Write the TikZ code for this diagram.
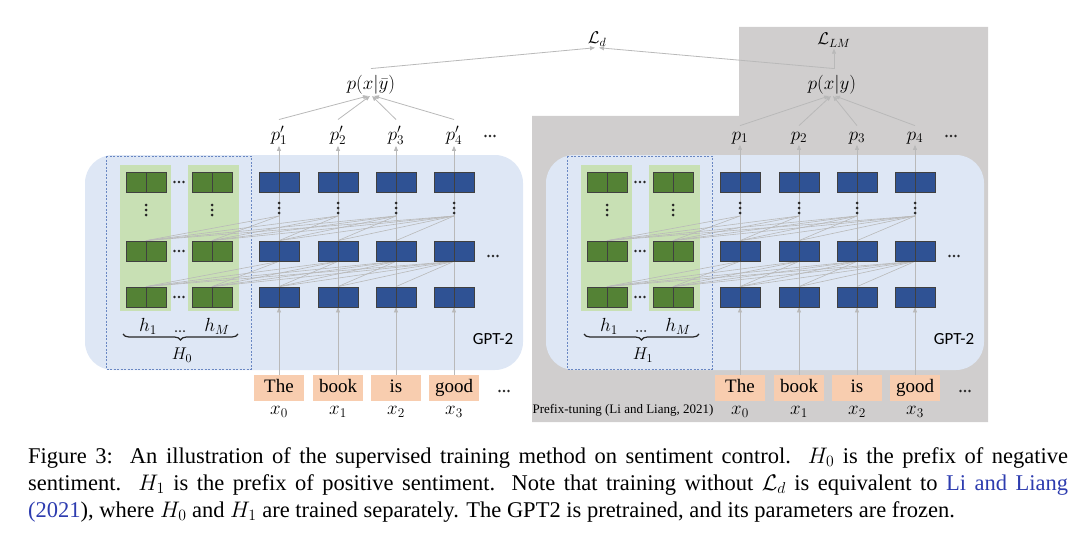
\RequirePackage{fix-cm}
\documentclass[tikz,border=0pt]{standalone}
\usepackage{fontspec}
\setmainfont{Liberation Serif}
\newfontfamily\gptfont{Carlito}
\usetikzlibrary{arrows.meta,decorations.pathreplacing}
\definecolor{graybg}{RGB}{208,206,206}
\definecolor{bluebg}{RGB}{222,231,245}
\definecolor{greenbg}{RGB}{200,224,180}
\definecolor{greenblk}{RGB}{84,130,53}
\definecolor{blueblk}{RGB}{47,82,148}
\definecolor{tokbg}{RGB}{248,205,175}
\definecolor{linegray}{RGB}{185,185,185}
\definecolor{dashblue}{RGB}{105,135,195}
\definecolor{citeblue}{RGB}{45,60,175}
\pgfdeclarelayer{bg}
\pgfdeclarelayer{lines}
\pgfsetlayers{bg,lines,main}
\newcommand\hdts[2]{\fill[black!85] (#1-4.5,#2) circle (1.4pt) (#1,#2) circle (1.4pt) (#1+4.5,#2) circle (1.4pt);}
\newcommand\vdts[2]{\fill[black!85] (#1,#2-5) circle (1.5pt) (#1,#2) circle (1.5pt) (#1,#2+5) circle (1.5pt);}
\begin{document}
\begin{tikzpicture}[x=1pt,y=-1pt,
  blk/.style={draw=black!75, line width=0.8pt, minimum width=40pt, minimum height=20pt, inner sep=0pt,
    path picture={\draw[black!75,line width=0.8pt] (path picture bounding box.north) -- (path picture bounding box.south);}},
  tok/.style={fill=tokbg, minimum width=50pt, minimum height=26pt, inner sep=0pt, text height=13pt, text depth=4pt, font=\fontsize{19}{22}\selectfont},
  mlbl/.style={inner sep=1pt, font=\fontsize{19}{22}\selectfont},
  llbl/.style={inner sep=1pt, font=\fontsize{17}{20}\selectfont},
  vline/.style={draw=linegray, line width=0.8pt},
  att/.style={draw=linegray, line width=0.6pt},
  arr/.style={-{Triangle[length=5pt,width=4pt]}},
  dashbox/.style={draw=dashblue, line width=0.8pt, dash pattern=on 2pt off 1.5pt},
  gptlbl/.style={inner sep=0pt, font=\gptfont\fontsize{17}{20}\selectfont},
  bracestyle/.style={draw=black!85, line width=1.2pt, decorate, decoration={brace,amplitude=6pt}}]
\useasboundingbox (0,0) rectangle (1080,543);
\begin{pgfonlayer}{bg}
\fill[graybg] (532,116) -- (739,116) -- (739,27) -- (988,27) -- (988,422) -- (532,422) -- cycle;
\end{pgfonlayer}
% top labels
\node[llbl, anchor=base] (Ld) at (597,44) {$\mathcal{L}_d$};
\node[llbl, anchor=base] (LLM) at (834,45) {$\mathcal{L}_{LM}$};
\node[mlbl, anchor=base] (pyb) at (371,90) {$p(x|\bar{y})$};
\node[mlbl, anchor=base] (py) at (832,90) {$p(x|y)$};
% panels
\foreach \off/\pn/\hh/\pp in {0/L/0/{'},461/R/1/{}}{
  \begin{scope}[xshift=\off pt]
    \begin{pgfonlayer}{bg}
      \fill[bluebg, rounded corners=28pt] (85,155) rectangle (523,370);
      \fill[greenbg] (120,165) rectangle (171,311);
      \fill[greenbg] (188,165) rectangle (239,311);
      \draw[dashbox] (106,156) rectangle (251,369);
    \end{pgfonlayer}
    \foreach \r/\yy in {1/182,2/251,3/297}{
      \foreach \k/\xx in {1/146,2/212}{
        \node[blk, fill=greenblk] (g\pn\k\r) at (\xx,\yy) {};
      }
      \hdts{179}{\yy}
      \foreach \j/\xx in {1/279,2/338,3/396,4/454}{
        \node[blk, fill=blueblk] (b\pn\j\r) at (\xx,\yy) {};
      }
    }
    \vdts{146}{210}
    \vdts{212}{210}
    \foreach \j/\xx/\w/\n in {1/279/The/0,2/338/book/1,3/396/is/2,4/454/good/3}{
      \vdts{\xx}{208}
      \coordinate (d\pn\j) at (\xx,216);
      \node[mlbl, anchor=base] (p\pn\j) at (\xx,140) {$p\pp_{\j}$};
      \node[tok] (t\pn\j) at (\xx,388) {\w};
      \node[mlbl] (x\pn\j) at (\xx,412) {$x_{\n}$};
    }
    \hdts{490}{136}
    \hdts{493}{256}
    \hdts{504}{391}
    \node[mlbl] (h\pn1) at (148,326) {$h_1$};
    \node[mlbl] (h\pn M) at (217,326) {$h_M$};
    \fill[black!85] (176,331) circle (1pt) (180,331) circle (1pt) (184,331) circle (1pt);
    \draw[bracestyle] (238,334) -- (123,334);
    \node[llbl] (H\pn) at (182,355) {$H_{\hh}$};
    \node[gptlbl] (gpt\pn) at (493,339) {GPT-2};
  \end{scope}
}
\node[inner sep=0pt, font=\fontsize{13}{15}\selectfont] (pt) at (623,410) {Prefix-tuning (Li and Liang, 2021)};
% connectors
\begin{pgfonlayer}{lines}
\foreach \pn/\tg in {L/pyb,R/py}{
  \foreach \j/\dx in {1/-3,2/-1,3/1,4/3}{
    \draw[vline,arr] (t\pn\j.north) -- (b\pn\j3.south);
    \draw[vline,arr] (t\pn\j.north) -- (p\pn\j.south);
    \draw[vline,arr] ([yshift=5pt]p\pn\j.north) -- ([xshift=\dx pt]\tg.south);
    \foreach \k in {1,2}{
      \draw[att] (d\pn\j) -- (g\pn\k2.north);
      \draw[att] (b\pn\j2.south) -- (g\pn\k3.north);
    }
    \foreach \i in {1,...,4}{
      \ifnum\i<\j
        \draw[att] (d\pn\j) -- (b\pn\i2.north);
        \draw[att] (b\pn\j2.south) -- (b\pn\i3.north);
      \fi
    }
  }
}
\draw[vline,arr] ([yshift=6pt]pyb.north) -- ([xshift=-2pt]Ld.south);
\draw[vline,arr] ([yshift=6pt,xshift=2pt]py.north) -- ([xshift=2pt]Ld.south);
\draw[vline,arr] ([yshift=6pt,xshift=2pt]py.north) -- ([xshift=2pt]py.north |- LLM.south);
\end{pgfonlayer}
% caption
\node[anchor=north west, inner sep=0pt, font=\fontsize{22.5}{27}\selectfont] (cap) at (28,447) {\vbox{%
\hbox to 1040pt{Figure 3:\ \ An illustration of the supervised training method on sentiment control.\ \ $H_0$ is the prefix of negative}
\hbox to 1040pt{sentiment.\ \ $H_1$ is the prefix of positive sentiment. Note that training without $\mathcal{L}_d$ is equivalent to \textcolor{citeblue}{Li and Liang}}
\hbox{\textcolor{citeblue}{(2021})\kern-0pt, where $H_0$ and $H_1$ are trained separately. The GPT2 is pretrained, and its parameters are frozen.}}};
\end{tikzpicture}
\end{document}
